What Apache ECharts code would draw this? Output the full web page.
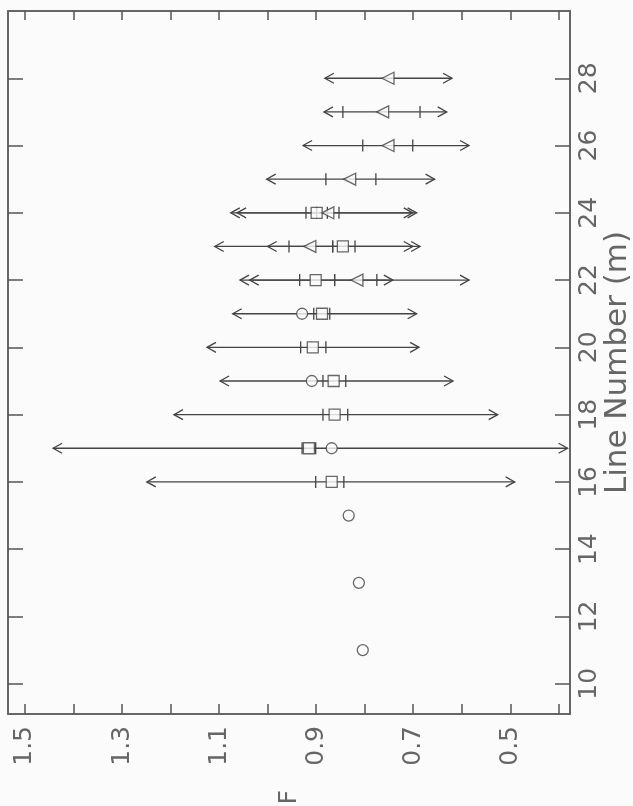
<!DOCTYPE html>
<html><head><meta charset="utf-8">
<script src="https://cdn.jsdelivr.net/npm/echarts@6/dist/echarts.min.js"></script>
<style>html,body{margin:0;padding:0;background:#fbfbfb}#c{width:633px;height:806px}</style>
</head><body><div id="c"></div>
<script>
// F axis ticks / labels
const fTicks = [0.4, 0.5, 0.6, 0.7, 0.8, 0.9, 1.0, 1.1, 1.2, 1.3, 1.4, 1.5];
const fLabels = [0.5, 0.7, 0.9, 1.1, 1.3, 1.5];
// Line number ticks / labels
const lineTicks = [10, 12, 14, 16, 18, 20, 22, 24, 26, 28];

// Square series
const sqLine     = [16, 17, 18, 19, 20, 21, 22, 23, 24];
const sqF        = [0.868, 0.915, 0.862, 0.864, 0.907, 0.888, 0.901, 0.845, 0.899];
const sqErrHi    = [0.901, 0.929, 0.886, 0.886, 0.932, 0.905, 0.934, 0.866, 0.921];
const sqErrLo    = [0.843, 0.901, 0.835, 0.839, 0.880, 0.872, 0.862, 0.820, 0.877];
const sqRangeHi  = [1.249, 1.442, 1.193, 1.098, 1.125, 1.072, 1.057, 1.109, 1.076];
const sqRangeLo  = [0.491, 0.382, 0.526, 0.618, 0.688, 0.693, 0.585, 0.686, 0.693];

// Triangle series
const triLine    = [22, 23, 24, 25, 26, 27, 28];
const triF       = [0.816, 0.913, 0.876, 0.831, 0.752, 0.763, 0.752];
const triErrHi   = [0.862, 0.956, 0.899, 0.880, 0.804, 0.845, null];
const triErrLo   = [0.775, 0.866, 0.853, 0.777, 0.701, 0.686, null];
const triRangeHi = [1.037, 1.000, 1.063, 1.002, 0.927, 0.884, 0.882];
const triRangeLo = [0.742, 0.701, 0.701, 0.656, 0.585, 0.631, 0.620];

// Circle series
const circLine   = [11, 13, 15, 17, 19, 21];
const circF      = [0.804, 0.812, 0.833, 0.868, 0.909, 0.929];

const INK = '#444';
const FONT = 'DejaVu Sans';

function arrowItem(params, api) {
  const y = api.value(2);
  const a = api.coord([api.value(0), y]);
  const b = api.coord([api.value(1), y]);
  const L = Math.min(a[0], b[0]), R = Math.max(a[0], b[0]), yy = a[1];
  const st = {stroke: INK, lineWidth: 1.3, fill: null};
  return {type: 'group', children: [
    {type: 'line', shape: {x1: L, y1: yy, x2: R, y2: yy}, style: st},
    {type: 'polyline', shape: {points: [[L + 9, yy - 5], [L, yy], [L + 9, yy + 5]]}, style: st},
    {type: 'polyline', shape: {points: [[R - 9, yy - 5], [R, yy], [R - 9, yy + 5]]}, style: st}
  ]};
}
function errItem(params, api) {
  const y = api.value(2);
  const kids = [];
  [0, 1].forEach(i => {
    const v = api.value(i);
    if (v == null || isNaN(v)) return;
    const p = api.coord([v, y]);
    kids.push({type: 'line', shape: {x1: p[0], y1: p[1] - 6, x2: p[0], y2: p[1] + 6},
      style: {stroke: INK, lineWidth: 1.3}});
  });
  return {type: 'group', children: kids};
}

const zip3 = (a, b, c) => a.map((v, i) => [v, b[i], c[i]]);

const axisLineStyle = {lineStyle: {color: '#666', width: 2}};

const option = {
  animation: false,
  backgroundColor: '#fbfbfb',
  grid: {left: 8, top: 11, right: 63, bottom: 92, containLabel: false, outerBoundsMode: 'none'},
  xAxis: [{
    type: 'value', position: 'bottom', inverse: true, min: 0.377, max: 1.535,
    axisLine: axisLineStyle,
    axisTick: {show: true, inside: true, length: 10, customValues: fTicks, lineStyle: {color: '#555', width: 1.5}},
    axisLabel: {customValues: fLabels, rotate: 90, margin: 12, color: '#666', fontFamily: FONT, fontSize: 25,
      formatter: v => v.toFixed(1)},
    splitLine: {show: false},
    name: 'F', nameLocation: 'middle', nameGap: 76, nameRotate: 90, nameMoveOverlap: false,
    nameTextStyle: {color: '#666', fontFamily: FONT, fontSize: 25}
  }, {
    type: 'value', position: 'top', inverse: true, min: 0.377, max: 1.535,
    axisLine: axisLineStyle,
    axisTick: {show: true, inside: true, length: 9, customValues: fTicks, lineStyle: {color: '#555', width: 1.5}},
    axisLabel: {show: false}, splitLine: {show: false}
  }],
  yAxis: [{
    type: 'value', position: 'right', min: 9.1, max: 30,
    axisLine: axisLineStyle,
    axisTick: {show: true, inside: true, length: 15, customValues: lineTicks, lineStyle: {color: '#555', width: 1.5}},
    axisLabel: {customValues: lineTicks, rotate: 90, margin: 7, color: '#666', fontFamily: FONT, fontSize: 25},
    splitLine: {show: false},
    name: 'Line Number (m)', nameLocation: 'middle', nameGap: 32, nameRotate: 90, nameMoveOverlap: false,
    nameTextStyle: {color: '#666', fontFamily: FONT, fontSize: 31}
  }, {
    type: 'value', position: 'left', min: 9.1, max: 30,
    axisLine: axisLineStyle,
    axisTick: {show: true, inside: true, length: 15, customValues: lineTicks, lineStyle: {color: '#555', width: 1.5}},
    axisLabel: {show: false}, splitLine: {show: false}
  }],
  series: [
    {type: 'custom', renderItem: arrowItem, data: zip3(sqRangeHi, sqRangeLo, sqLine), z: 2},
    {type: 'custom', renderItem: arrowItem, data: zip3(triRangeHi, triRangeLo, triLine), z: 2},
    {type: 'custom', renderItem: errItem, data: zip3(sqErrHi, sqErrLo, sqLine), z: 3},
    {type: 'custom', renderItem: errItem, data: zip3(triErrHi, triErrLo, triLine), z: 3},
    {type: 'scatter', data: sqF.map((v, i) => [v, sqLine[i]]), symbol: 'rect', symbolSize: 11,
      itemStyle: {color: '#fbfbfb', borderColor: INK, borderWidth: 1.3}, z: 4},
    {type: 'scatter', data: triF.map((v, i) => [v, triLine[i]]), symbol: 'triangle', symbolSize: 12, symbolRotate: 90,
      itemStyle: {color: '#fbfbfb', borderColor: INK, borderWidth: 1.3}, z: 5},
    {type: 'scatter', data: circF.map((v, i) => [v, circLine[i]]), symbol: 'circle', symbolSize: 11,
      itemStyle: {color: '#fbfbfb', borderColor: INK, borderWidth: 1.3}, z: 5}
  ]
};
const chart = echarts.init(document.getElementById('c'), null, {renderer: 'canvas'});
chart.setOption(option);
</script>
</body></html>
